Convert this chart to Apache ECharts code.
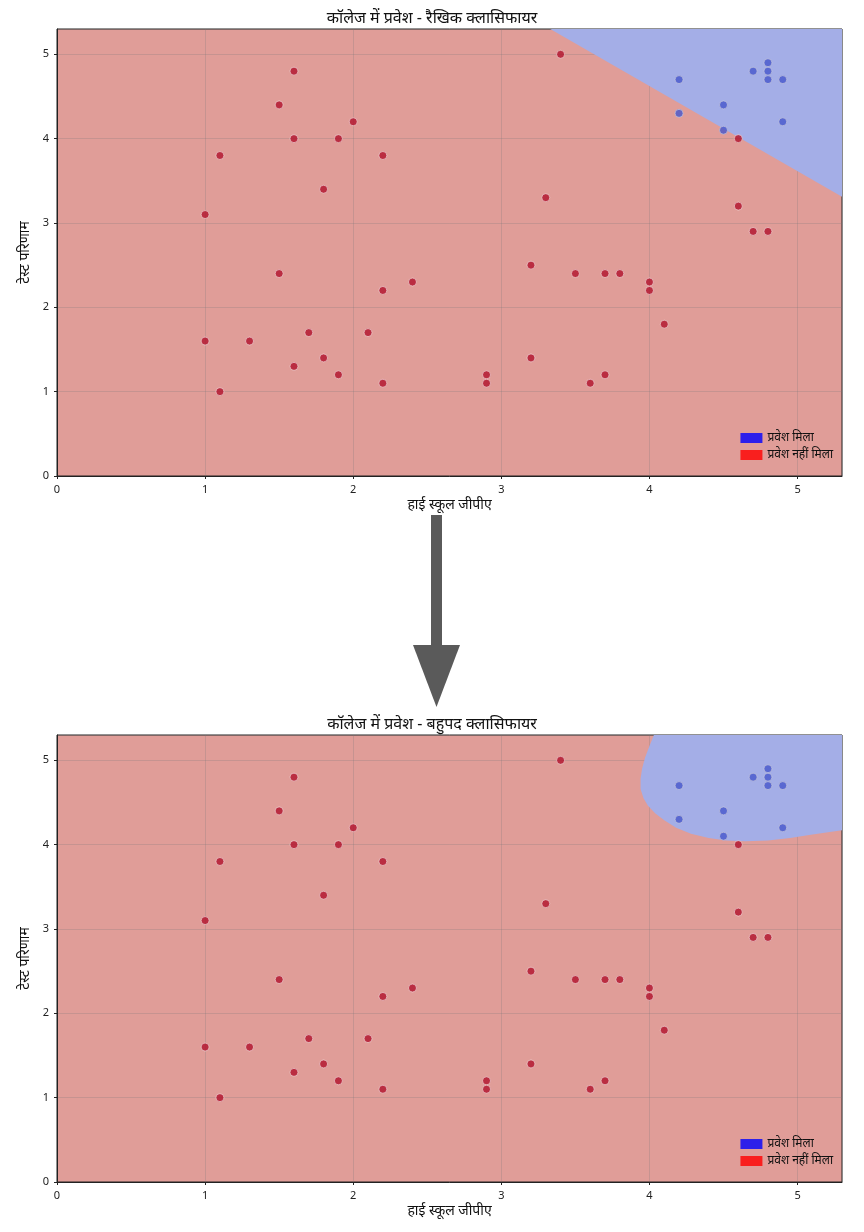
<!DOCTYPE html>
<html><head><meta charset="utf-8">
<script src="https://cdn.jsdelivr.net/npm/echarts@6/dist/echarts.min.js"></script>
<style>html,body{margin:0;padding:0;background:#fff}#c{width:864px;height:1232px}</style>
</head><body><div id="c"></div>
<script>
const admitted = [[4.2,4.7],[4.2,4.3],[4.5,4.4],[4.5,4.1],[4.7,4.8],[4.8,4.9],[4.8,4.8],[4.8,4.7],[4.9,4.7],[4.9,4.2]];
const rejected = [[3.4,5.0],[1.6,4.8],[1.5,4.4],[2.0,4.2],[1.6,4.0],[1.9,4.0],[1.1,3.8],[2.2,3.8],[1.8,3.4],[3.3,3.3],[1.0,3.1],[4.6,4.0],[4.6,3.2],[4.7,2.9],[4.8,2.9],[1.5,2.4],[3.2,2.5],[3.5,2.4],[3.7,2.4],[3.8,2.4],[4.0,2.3],[4.0,2.2],[2.4,2.3],[2.2,2.2],[4.1,1.8],[1.7,1.7],[2.1,1.7],[1.0,1.6],[1.3,1.6],[1.8,1.4],[3.2,1.4],[1.6,1.3],[1.9,1.2],[2.9,1.2],[3.7,1.2],[2.2,1.1],[2.9,1.1],[3.6,1.1],[1.1,1.0]];
const linearRegion = [[3.33,5.3],[5.3,3.31],[5.3,5.3]];
const polyRegion = [[4.03,5.3],[4.0,5.17],[3.97,5.03],[3.95,4.9],[3.94,4.78],[3.94,4.66],[3.96,4.55],[3.99,4.46],[4.04,4.37],[4.1,4.29],[4.18,4.2],[4.28,4.13],[4.4,4.08],[4.52,4.05],[4.65,4.04],[4.8,4.05],[4.95,4.08],[5.1,4.12],[5.3,4.17],[5.3,5.3]];
const titles = ['कॉलेज में प्रवेश - रैखिक क्लासिफायर','कॉलेज में प्रवेश - बहुपद क्लासिफायर'];
const xName = 'हाई स्कूल जीपीए', yName = 'टेस्ट परिणाम';
const labAdm = 'प्रवेश मिला', labRej = 'प्रवेश नहीं मिला';
const F = '"Noto Sans", sans-serif';
const tops = [29, 735];
const chart = echarts.init(document.getElementById('c'));
const grids = [], xAxes = [], yAxes = [], series = [], titleOpts = [], legends = [];
tops.forEach((t, i) => {
  grids.push({left:57, top:t, width:785, height:447, show:true, backgroundColor:'#e09d98', borderColor:'#222', borderWidth:1});
  const ax = {gridIndex:i, type:'value', min:0, max:5.3, interval:1,
    axisLine:{show:true, onZero:false, lineStyle:{color:'#222'}}, axisTick:{show:true, length:3, lineStyle:{color:'#222'}},
    axisLabel:{color:'#222', fontSize:11, fontFamily:F, showMaxLabel:false},
    splitLine:{show:true, lineStyle:{color:'rgba(120,120,120,0.25)'}},
    nameLocation:'middle', nameTextStyle:{color:'#111', fontSize:14, fontFamily:F}};
  xAxes.push(Object.assign({}, ax, {name:xName, nameGap:22}));
  yAxes.push(Object.assign({}, ax, {name:yName, nameGap:16}));
  const region = i === 0 ? linearRegion : polyRegion;
  series.push({type:'custom', xAxisIndex:i, yAxisIndex:i, silent:true, z:1, clip:true,
    data:[0],
    renderItem:(params, api) => ({type:'polygon', shape:{points:region.map(p => api.coord(p))},
      style:{fill:'#a4aee7'}})});
  series.push({name:labAdm, type:'scatter', xAxisIndex:i, yAxisIndex:i, data:admitted, symbolSize:8, z:3,
    itemStyle:{color:'#4656cc', borderColor:'#ccd', borderWidth:0.8}});
  series.push({name:labRej, type:'scatter', xAxisIndex:i, yAxisIndex:i, data:rejected, symbolSize:8, z:3,
    itemStyle:{color:'#b0112c', borderColor:'#f3dede', borderWidth:0.8}});
  titleOpts.push({text:titles[i], left:'center', top:t-24, textStyle:{fontSize:16, fontWeight:'normal', color:'#111', fontFamily:F}});
  legends.push({right:26, top:t+398, orient:'vertical', itemWidth:22, itemHeight:10, itemGap:5, icon:'rect',
    textStyle:{fontSize:12, color:'#111', fontFamily:F}, selectedMode:false,
    data:[{name:labAdm, itemStyle:{color:'#0000ff', borderWidth:0}}, {name:labRej, itemStyle:{color:'#ff0000', borderWidth:0}}]});
});
chart.setOption({
  animation:false, grid:grids, xAxis:xAxes, yAxis:yAxes, series:series, title:titleOpts, legend:legends,
  graphic:[
    {type:'rect', shape:{x:431, y:515, width:11, height:132}, style:{fill:'#5a5a5a'}},
    {type:'polygon', shape:{points:[[413,645],[460,645],[436.5,707]]}, style:{fill:'#5a5a5a'}}
  ]
});
</script></body></html>
